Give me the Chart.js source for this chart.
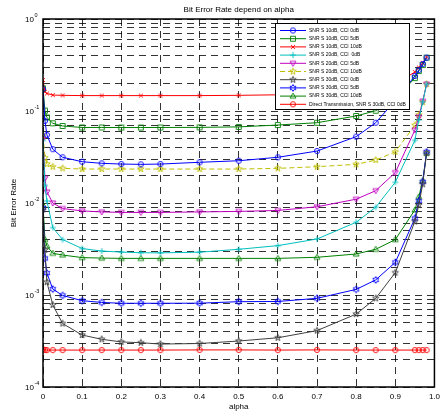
<!DOCTYPE html>
<html>
<head>
<meta charset="utf-8">
<script src="https://cdn.jsdelivr.net/npm/chart.js@4.4.1/dist/chart.umd.min.js"></script>
<style>
  html, body { margin: 0; padding: 0; background: #fff; }
  #wrap { width: 445px; height: 414px; }
</style>
</head>
<body>
<div id="wrap"><canvas id="myChart" width="445" height="414"></canvas></div>
<script>
// x values (alpha)
const alpha = [0, 0.005, 0.01, 0.025, 0.05, 0.1, 0.15, 0.2, 0.25, 0.3, 0.4, 0.5, 0.6, 0.7, 0.8, 0.85, 0.9, 0.95, 0.96, 0.97, 0.98];

// BER, one array per curve
const snr10cci0  = [0.173, 0.078, 0.055, 0.0384, 0.0314, 0.0281, 0.027, 0.0265, 0.0263, 0.0265, 0.0277, 0.0288, 0.0314, 0.0367, 0.0526, 0.0746, 0.13, 0.24, 0.279, 0.324, 0.38];
const snr10cci5  = [0.176, 0.101, 0.085, 0.0735, 0.0687, 0.0662, 0.0662, 0.0661, 0.0661, 0.0662, 0.0664, 0.0672, 0.0704, 0.0746, 0.0883, 0.1007, 0.135, 0.228, 0.272, 0.316, 0.38];
const snr10cci10 = [0.217, 0.162, 0.155, 0.149, 0.148, 0.147, 0.147, 0.147, 0.147, 0.147, 0.147, 0.148, 0.15, 0.153, 0.163, 0.175, 0.196, 0.265, 0.297, 0.333, 0.386];
const snr20cci0  = [0.048, 0.0155, 0.0105, 0.0054, 0.004, 0.0032, 0.003, 0.00293, 0.00288, 0.00287, 0.00292, 0.00314, 0.00344, 0.00406, 0.00617, 0.009, 0.0168, 0.048, 0.08, 0.125, 0.196];
const snr20cci5  = [0.05, 0.0186, 0.0132, 0.01, 0.0087, 0.0082, 0.008, 0.0079, 0.0079, 0.0079, 0.008, 0.0081, 0.0083, 0.0091, 0.011, 0.0136, 0.0214, 0.062, 0.086, 0.128, 0.196];
const snr20cci10 = [0.054, 0.031, 0.0265, 0.0248, 0.0238, 0.0234, 0.0234, 0.0234, 0.0234, 0.0234, 0.0234, 0.0234, 0.0238, 0.0248, 0.0263, 0.0293, 0.036, 0.07, 0.0905, 0.125, 0.196];
const snr30cci0  = [0.0085, 0.0031, 0.00138, 0.00078, 0.00049, 0.000367, 0.00033, 0.000309, 0.000303, 0.000293, 0.000297, 0.000316, 0.000343, 0.00041, 0.00062, 0.00092, 0.00175, 0.0063, 0.0095, 0.016, 0.035];
const snr30cci5  = [0.0088, 0.0025, 0.00173, 0.00116, 0.00099, 0.000867, 0.00083, 0.000813, 0.000813, 0.000813, 0.000815, 0.000846, 0.00085, 0.00092, 0.00115, 0.00146, 0.00226, 0.0068, 0.0105, 0.017, 0.036];
const snr30cci10 = [0.0095, 0.004, 0.0034, 0.00284, 0.00272, 0.00255, 0.00252, 0.0025, 0.0025, 0.0025, 0.0025, 0.0025, 0.0025, 0.00257, 0.00279, 0.00314, 0.004, 0.0084, 0.0117, 0.0175, 0.0347];
const direct     = [2.55e-4, 2.53e-4, 2.52e-4, 2.52e-4, 2.52e-4, 2.52e-4, 2.52e-4, 2.52e-4, 2.52e-4, 2.52e-4, 2.53e-4, 2.53e-4, 2.52e-4, 2.53e-4, 2.52e-4, 2.52e-4, 2.52e-4, 2.52e-4, 2.52e-4, 2.52e-4, 2.52e-4];

const seriesLabels = [
  "SNR S 10dB, CCI 0dB",
  "SNR S 10dB, CCI 5dB",
  "SNR S 10dB, CCI 10dB",
  "SNR S 20dB, CCI  0dB",
  "SNR S 20dB, CCI 5dB",
  "SNR S 20dB, CCI 10dB",
  "SNR S 30dB, CCI 0dB",
  "SNR S 30dB, CCI 5dB",
  "SNR S 30dB, CCI 10dB",
  "Direct Transmission, SNR S 30dB, CCI 0dB"
];
const seriesValues = [snr10cci0, snr10cci5, snr10cci10, snr20cci0, snr20cci5, snr20cci10, snr30cci0, snr30cci5, snr30cci10, direct];

// y ticks: decades and their exponents
const yDecades = [1, 0.1, 0.01, 0.001, 0.0001];
const yExponents = ["0", "-1", "-2", "-3", "-4"];

// styles
const seriesColors = ["#0000ff", "#008000", "#ff0000", "#00bfbf", "#bf00bf", "#bfbf00", "#404040", "#0000ff", "#008000", "#ff0000"];
const seriesMarkers = ["circle", "square", "x", "plus", "triDown", "pentagram", "pentagram", "hexagram", "triUp", "circle"];

const FONT = '"Liberation Sans", Arial, Helvetica, sans-serif';

const makeMarker = (shape, color) => {
  const s = 10, c = s / 2;
  const cv = document.createElement("canvas");
  cv.width = s; cv.height = s;
  const g = cv.getContext("2d");
  g.strokeStyle = color;
  g.lineWidth = 0.9;
  g.beginPath();
  if (shape === "circle") {
    g.arc(c, c, 2.6, 0, Math.PI * 2);
  } else if (shape === "square") {
    g.rect(c - 2.5, c - 2.5, 5, 5);
  } else if (shape === "x") {
    g.moveTo(c - 2, c - 2); g.lineTo(c + 2, c + 2);
    g.moveTo(c + 2, c - 2); g.lineTo(c - 2, c + 2);
  } else if (shape === "plus") {
    g.moveTo(c - 3, c); g.lineTo(c + 3, c);
    g.moveTo(c, c - 3); g.lineTo(c, c + 3);
  } else if (shape === "triDown") {
    g.moveTo(c - 3, c - 2); g.lineTo(c + 3, c - 2); g.lineTo(c, c + 3); g.closePath();
  } else if (shape === "triUp") {
    g.moveTo(c - 3, c + 2); g.lineTo(c + 3, c + 2); g.lineTo(c, c - 3); g.closePath();
  } else {
    const n = shape === "pentagram" ? 5 : 6;
    const ro = 3.4, ri = shape === "pentagram" ? 1.4 : 1.9;
    for (let i = 0; i < 2 * n; i++) {
      const a = -Math.PI / 2 + i * Math.PI / n;
      const r = i % 2 ? ri : ro;
      const px = c + r * Math.cos(a), py = c + r * Math.sin(a);
      if (i === 0) g.moveTo(px, py); else g.lineTo(px, py);
    }
    g.closePath();
  }
  g.stroke();
  return cv;
};

const markerImgs = seriesMarkers.map((m, i) => makeMarker(m, seriesColors[i]));

const datasets = seriesValues.map((vals, i) => ({
  label: seriesLabels[i],
  data: alpha.map((a, j) => ({ x: a, y: vals[j] })),
  borderColor: seriesColors[i],
  backgroundColor: seriesColors[i],
  borderWidth: 1,
  borderDash: i === 5 ? [5, 3] : [],
  pointStyle: markerImgs[i],
  pointRadius: 3,
  tension: 0,
  fill: false
}));

// draws the MATLAB-like frame, labels and the boxed legend
const matlabFrame = {
  id: "matlabFrame",
  afterDatasetsDraw(chart) {
    const ctx = chart.ctx;
    const bx = 275, by = 23, bw = 134, bh = 86;
    ctx.save();
    ctx.fillStyle = "#fff";
    ctx.fillRect(bx, by, bw, bh);
    ctx.strokeStyle = "#000";
    ctx.lineWidth = 1;
    ctx.strokeRect(bx + 0.5, by + 0.5, bw, bh);
    ctx.font = "5px " + FONT;
    ctx.textBaseline = "middle";
    ctx.textAlign = "left";
    chart.data.datasets.forEach((ds, i) => {
      const yy = by + 7.5 + i * 8.2;
      ctx.strokeStyle = ds.borderColor;
      ctx.lineWidth = 1;
      ctx.setLineDash(ds.borderDash);
      ctx.beginPath();
      ctx.moveTo(280, yy); ctx.lineTo(306, yy);
      ctx.stroke();
      ctx.setLineDash([]);
      const img = ds.pointStyle;
      ctx.drawImage(img, 293 - img.width / 2, yy - img.height / 2);
      ctx.fillStyle = "#000";
      ctx.fillText(ds.label, 309, yy);
    });
    ctx.restore();
  },
  afterDraw(chart) {
    const ctx = chart.ctx;
    const a = chart.chartArea;
    const ys = chart.scales.y;
    ctx.save();
    ctx.strokeStyle = "#000";
    ctx.lineWidth = 1.5;
    ctx.strokeRect(a.left, a.top, a.right - a.left, a.bottom - a.top);

    ctx.fillStyle = "#000";
    yDecades.forEach((v, i) => {
      const py = ys.getPixelForValue(v);
      ctx.font = "8px " + FONT;
      ctx.textAlign = "right";
      ctx.textBaseline = "middle";
      ctx.fillText("10", 34, py + 1);
      ctx.font = "5.5px " + FONT;
      ctx.textAlign = "left";
      ctx.fillText(yExponents[i], 34.5, py - 3.5);
    });

    const cx = (a.left + a.right) / 2;
    ctx.font = "8px " + FONT;
    ctx.textAlign = "center";
    ctx.textBaseline = "middle";
    ctx.fillText("Bit Error Rate depend on alpha", cx, 10);
    ctx.fillText("alpha", cx, 407);
    ctx.translate(14, (a.top + a.bottom) / 2);
    ctx.rotate(-Math.PI / 2);
    ctx.fillText("Bit Error Rate", 0, 0);
    ctx.restore();
  }
};

const ctx = document.getElementById("myChart");
new Chart(ctx, {
  type: "line",
  data: { datasets: datasets },
  options: {
    responsive: false,
    animation: false,
    devicePixelRatio: 1,
    layout: { padding: { top: 19, right: 4, left: 0, bottom: 0 } },
    plugins: {
      legend: { display: false },
      title: { display: false },
      tooltip: { enabled: false }
    },
    scales: {
      x: {
        type: "linear",
        min: 0,
        max: 1,
        afterFit: (scale) => { scale.height = 27; },
        ticks: {
          stepSize: 0.1,
          autoSkip: false,
          maxRotation: 0,
          padding: 5,
          color: "#000",
          font: { family: FONT, size: 8 }
        },
        grid: { color: "rgba(0,0,0,0.8)", lineWidth: 1, drawTicks: false },
        border: { display: false, dash: [7, 5] }
      },
      y: {
        type: "logarithmic",
        min: 0.0001,
        max: 1,
        afterFit: (scale) => { scale.width = 43; },
        afterBuildTicks: (scale) => {
          const t = [];
          for (let e = -4; e <= 0; e++) {
            for (let d = 1; d <= 9; d++) {
              const v = d * Math.pow(10, e);
              if (v <= 1.0000001) t.push({ value: v });
            }
          }
          scale.ticks = t;
        },
        ticks: {
          autoSkip: false,
          callback: () => ""
        },
        grid: { color: "rgba(0,0,0,0.8)", lineWidth: 1, drawTicks: false },
        border: { display: false, dash: [7, 5] }
      }
    }
  },
  plugins: [matlabFrame]
});
</script>
</body>
</html>
